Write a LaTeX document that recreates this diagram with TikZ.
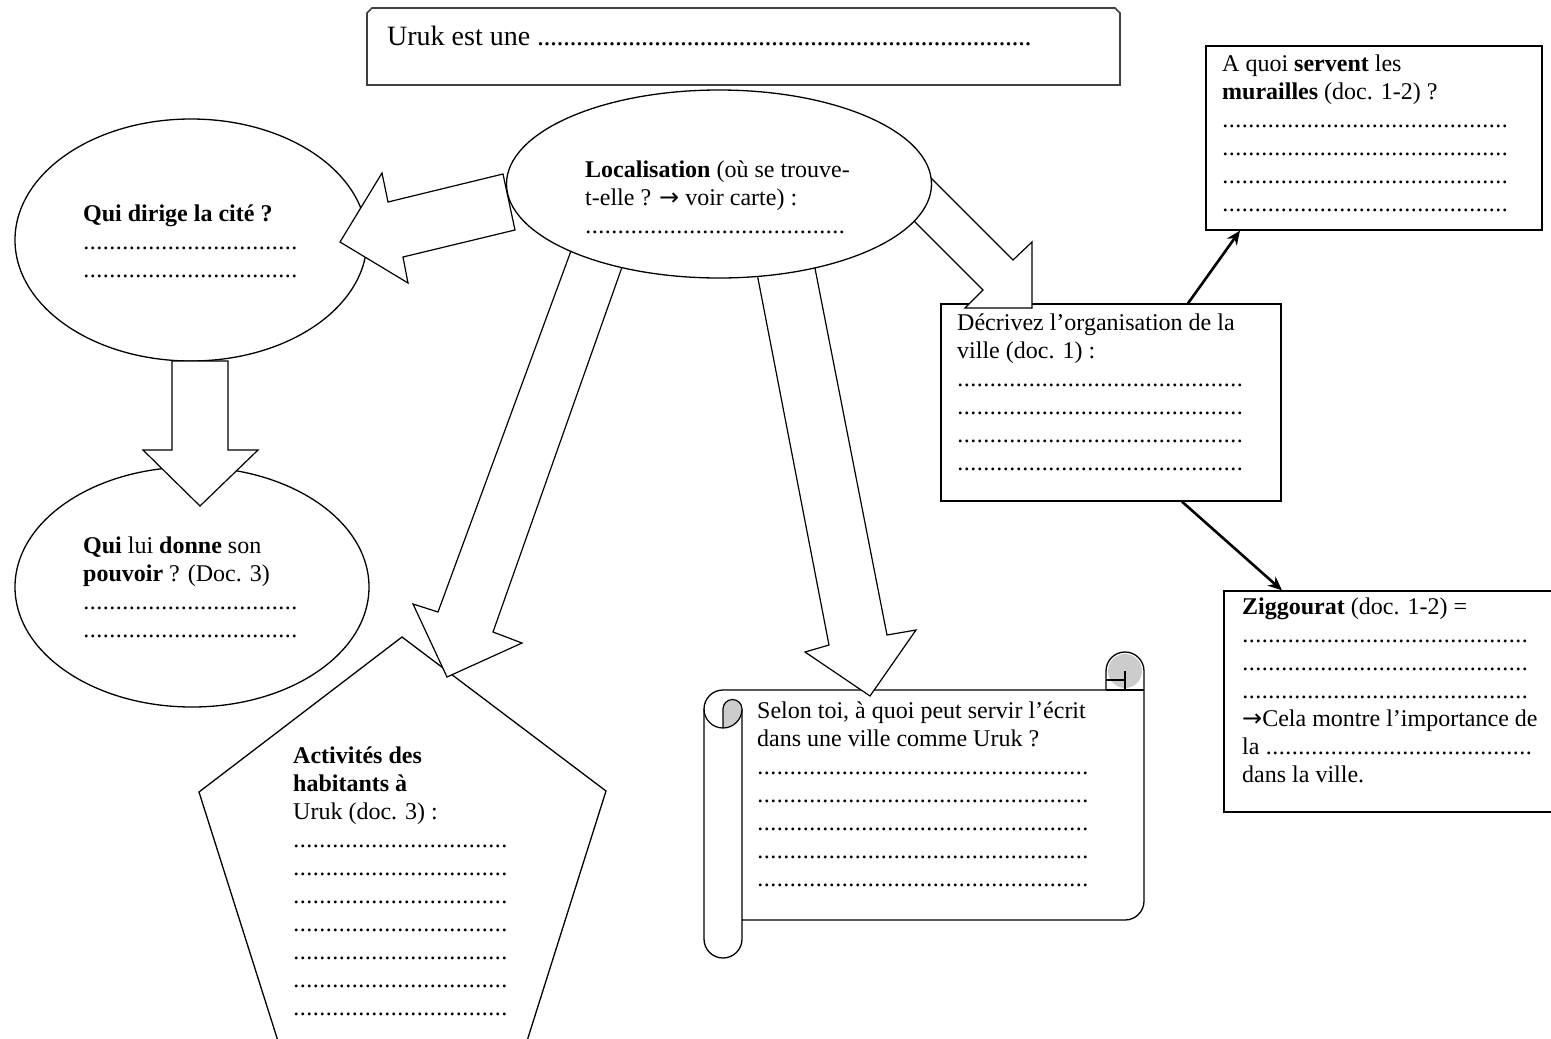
\documentclass[tikz,border=0pt]{standalone}
\usepackage{fontspec}
\setmainfont{Liberation Serif}
\newfontfamily\fleches{DejaVu Sans}
\usetikzlibrary{shapes.geometric,arrows.meta}
\definecolor{rollgrey}{RGB}{204,204,204}
\newcommand\pointilles[1]{\hbox to #1pt{\leaders\hbox to 6.5pt{\hss.\hss}\hfill}}

\begin{document}
\begin{tikzpicture}[x=1pt, y=-1pt,
  txt/.style={font=\fontsize{24}{28}\selectfont, align=left, inner sep=0pt, anchor=base west},
  cadre/.style={draw, line width=1.3pt, fill=white},
  bulle/.style={cadre, ellipse, inner sep=0pt},
  boite/.style={cadre, rectangle, inner sep=0pt},
  fleche/.style={draw, line width=1.2pt, fill=white, line join=miter},
  lien/.style={-{Stealth[length=14pt,width=12pt]}, line width=2.6pt}
]
\useasboundingbox (0,0) rectangle (1551,1039);
\clip (0,0) rectangle (1551,1039);

% cadres
\draw[cadre, draw=black!75, line width=1.6pt] (367,85) -- (367,13) -- (372,8) -- (1115,8) -- (1120,13) -- (1120,85) -- cycle;
\node[txt, font=\fontsize{28}{33}\selectfont] (titre) at (387,45) {Uruk est une \pointilles{500}};

\node[boite, minimum width=336pt, minimum height=184pt] (murailles) at (1374,138) {};
\node[boite, minimum width=340pt, minimum height=197pt] (decrire) at (1111,402.5) {};
\node[boite, minimum width=332pt, minimum height=221pt] (ziggourat) at (1390,701.5) {};
\node[bulle, minimum width=354pt, minimum height=240pt] (pouvoir) at (192,587) {};

% pentagone
\draw[cadre] (402,637) -- (606,791) -- (521,1060) -- (284,1060) -- (199,792) -- cycle;

% parchemin
\draw[cadre] (742,920) -- (1125,920) arc[start angle=90, end angle=0, radius=19]
  -- (1144,671) arc[start angle=0, end angle=-180, radius=19] -- (1106,690)
  -- (723,690) arc[start angle=270, end angle=180, radius=19]
  -- (704,939) arc[start angle=180, end angle=0, radius=19] -- (742,709);
\fill[rollgrey] (1125,671) circle (17);
\draw[line width=1.2pt] (1106,690) -- (1144,690) (1106,680) -- (1125,680) (1125,671) -- (1125,690);
\filldraw[fill=rollgrey, line width=1.2pt] (723,728) -- (723,709) arc[start angle=180, end angle=360, radius=9.5] arc[start angle=0, end angle=90, radius=19];
\draw[line width=1.2pt] (704,709) arc[start angle=180, end angle=90, radius=19];

\node[bulle, minimum width=352pt, minimum height=242pt] (dirige) at (191,240) {};

% grosses fleches
\draw[fleche] (503,174) -- (388,202) -- (382,173) -- (340,242) -- (408,283) -- (403,257) -- (515,230) -- cycle;
\draw[fleche] (172,361) -- (172,450) -- (143,450) -- (200,506) -- (258,450) -- (228,450) -- (228,361) -- cycle;
\draw[fleche] (575,240) -- (438,612) -- (413,604) -- (447,677) -- (522,643) -- (493,632) -- (627,253) -- cycle;
\draw[fleche] (755,263) -- (829,645) -- (805,652) -- (870,696) -- (916,630) -- (887,635) -- (812,253) -- cycle;
\draw[fleche] (930,177) -- (1013,260) -- (1032,242) -- (1032,308) -- (965,308) -- (983,290) -- (897,204) -- cycle;

\node[bulle, minimum width=425pt, minimum height=188pt] (localisation) at (719,184) {};

% textes (placés sur la ligne de base de la dernière ligne)
\node[txt] (t-loc) at (585,233) {\textbf{Localisation} (où se trouve-\\t-elle ? {\fleches →} voir carte) :\\\pointilles{262}};
\node[txt] (t-dirige) at (83,277) {\textbf{Qui dirige la cité ?}\\\pointilles{215}\\\pointilles{215}};
\node[txt] (t-pouvoir) at (83,637) {\textbf{Qui} lui \textbf{donne} son\\\textbf{pouvoir} ? (Doc. 3)\\\pointilles{215}\\\pointilles{215}};
\node[txt] (t-activites) at (293,1015) {\textbf{Activités des}\\\textbf{habitants à}\\Uruk (doc. 3) :\\\pointilles{215}\\\pointilles{215}\\\pointilles{215}\\\pointilles{215}\\\pointilles{215}\\\pointilles{215}\\\pointilles{215}};
\node[txt] (t-ecrit) at (757,886) {Selon toi, à quoi peut servir l’écrit\\dans une ville comme Uruk ?\\\pointilles{336}\\\pointilles{336}\\\pointilles{336}\\\pointilles{336}\\\pointilles{336}};
\node[txt] (t-decrire) at (957,470) {Décrivez l’organisation de la\\ville (doc. 1) :\\\pointilles{286}\\\pointilles{286}\\\pointilles{286}\\\pointilles{286}};
\node[txt] (t-murailles) at (1222,211) {A quoi \textbf{servent} les\\\textbf{murailles} (doc. 1-2) ?\\\pointilles{287}\\\pointilles{287}\\\pointilles{287}\\\pointilles{287}};
\node[txt] (t-ziggourat) at (1242,782) {\textbf{Ziggourat} (doc. 1-2) =\\\pointilles{286}\\\pointilles{286}\\\pointilles{286}\\{\fleches →}Cela montre l’importance de\\la \pointilles{270}\\dans la ville.};

% liens
\draw[lien] ([xshift=77pt]decrire.north) -- ([xshift=-134pt]murailles.south);
\draw[lien] ([xshift=71pt]decrire.south) -- ([xshift=-108pt]ziggourat.north);
\end{tikzpicture}
\end{document}
